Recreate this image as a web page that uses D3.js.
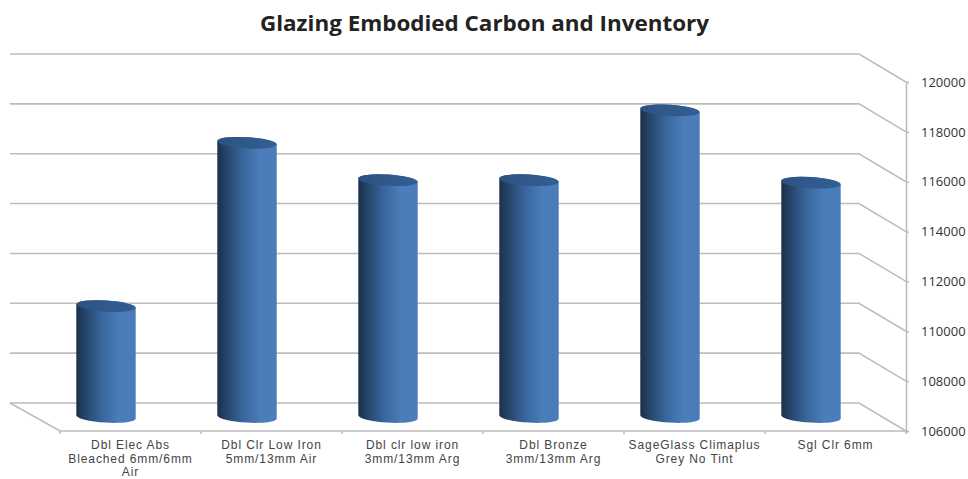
<!DOCTYPE html>
<html>
<head>
<meta charset="utf-8">
<script src="https://cdn.jsdelivr.net/npm/d3@7"></script>
<style>
html, body { margin: 0; padding: 0; background: #fff; }
svg { display: block; }
text { font-family: "Open Sans", sans-serif; }
text.cat { font-family: "Liberation Sans", sans-serif; }
</style>
</head>
<body>
<svg id="chart" width="968" height="479"></svg>
<script>
const titleText = "Glazing Embodied Carbon and Inventory";
const categories = [
  ["Dbl Elec Abs", "Bleached 6mm/6mm", "Air"],
  ["Dbl Clr Low Iron", "5mm/13mm Air"],
  ["Dbl clr low iron", "3mm/13mm Arg"],
  ["Dbl Bronze", "3mm/13mm Arg"],
  ["SageGlass Climaplus", "Grey No Tint"],
  ["Sgl Clr 6mm"]
];
const carbonValues = [110450, 117000, 115500, 115500, 118300, 115400];
const yTicks = [106000, 108000, 110000, 112000, 114000, 116000, 118000, 120000];

const svg = d3.select("#chart");
const floorLeft = 60, floorRight = 906;
const yBase = 431, yTop = 82;
const depthX = 47, depthY = 28;
const gridColor = "#bdbdbd";

const x = d3.scaleBand().domain(d3.range(categories.length)).range([floorLeft, floorRight]);
const y = d3.scaleLinear().domain([106000, 120000]).range([yBase, yTop]);

const defs = svg.append("defs");
const side = defs.append("linearGradient").attr("id", "cylSide");
[[0, "#1b3049"], [0.15, "#254568"], [0.42, "#38659b"], [0.72, "#4b7dba"], [1, "#4a7cb9"]]
  .forEach(([o, c]) => side.append("stop").attr("offset", o).attr("stop-color", c));
const cap = defs.append("linearGradient").attr("id", "cylCap");
[[0, "#2c5283"], [0.5, "#30598c"], [1, "#335e92"]]
  .forEach(([o, c]) => cap.append("stop").attr("offset", o).attr("stop-color", c));

// Back wall grid lines, each folding forward to the value axis
svg.append("g").selectAll("path").data(yTicks).join("path")
  .attr("d", d => `M${floorLeft - depthX - 3},${y(d) - depthY}H${floorRight - depthX}L${floorRight},${y(d)}`)
  .attr("fill", "none").attr("stroke", gridColor).attr("stroke-width", 1.6);

// Floor: left edge and front edge
svg.append("path")
  .attr("d", `M${floorLeft - depthX - 3},${yBase - depthY}L${floorLeft},${yBase}H${floorRight}`)
  .attr("fill", "none").attr("stroke", gridColor).attr("stroke-width", 1.6);

// Value axis on the right
const yAxis = svg.append("g").attr("transform", `translate(${floorRight},0)`)
  .call(d3.axisRight(y).tickValues(yTicks).tickSize(3).tickPadding(12).tickFormat(d3.format("d")));
yAxis.selectAll("path, line").attr("stroke", gridColor).attr("stroke-width", 1.6);
yAxis.selectAll("text").attr("font-size", 13).attr("fill", "#333");

// Category axis ticks and wrapped labels
const xTickAt = d3.range(categories.length + 1).map(i => floorLeft + i * x.step());
svg.append("g").selectAll("line").data(xTickAt).join("line")
  .attr("x1", d => d).attr("x2", d => d)
  .attr("y1", yBase).attr("y2", yBase + 3)
  .attr("stroke", gridColor).attr("stroke-width", 1.6);

const labels = svg.append("g").selectAll("text").data(categories).join("text")
  .attr("class", "cat")
  .attr("text-anchor", "middle").attr("font-size", 12).attr("letter-spacing", 0.9).attr("fill", "#444");
labels.each(function (lines, i) {
  d3.select(this).selectAll("tspan").data(lines).join("tspan")
    .attr("x", x(i) + x.bandwidth() / 2)
    .attr("y", (d, k) => 448.8 + k * 13.8)
    .text(d => d);
});

// Cylinders stand at mid depth of the floor, slightly tilted as in a 3D projection
const cylW = 59.5, capRy = 5.6, tiltDeg = 3.5;
const tiltDx = (cylW / 2) * Math.cos(tiltDeg * Math.PI / 180);
const tiltDy = (cylW / 2) * Math.sin(tiltDeg * Math.PI / 180);
const midX = depthX / 2 + 1, midY = depthY / 2;
const bars = svg.append("g").selectAll("g").data(carbonValues).join("g")
  .attr("transform", (d, i) => `translate(${x(i) + x.bandwidth() / 2 - midX},${-midY})`);
bars.append("path")
  .attr("d", d => {
    const rx = cylW / 2, top = y(d), bot = yBase;
    return `M${-tiltDx},${top - tiltDy}V${bot - tiltDy}`
      + `A${rx},${capRy} ${tiltDeg} 0 0 ${tiltDx},${bot + tiltDy}`
      + `V${top + tiltDy}A${rx},${capRy} ${tiltDeg} 0 0 ${-tiltDx},${top - tiltDy}Z`;
  })
  .attr("fill", "url(#cylSide)");
bars.append("ellipse")
  .attr("rx", cylW / 2).attr("ry", capRy)
  .attr("transform", d => `translate(0,${y(d)}) rotate(${tiltDeg})`)
  .attr("fill", "url(#cylCap)");

svg.append("text").attr("x", 484.5).attr("y", 31)
  .attr("text-anchor", "middle").attr("font-size", 20.5).attr("font-weight", 700)
  .attr("textLength", 449).attr("lengthAdjust", "spacingAndGlyphs")
  .attr("fill", "#222").text(titleText);
</script>
</body>
</html>
